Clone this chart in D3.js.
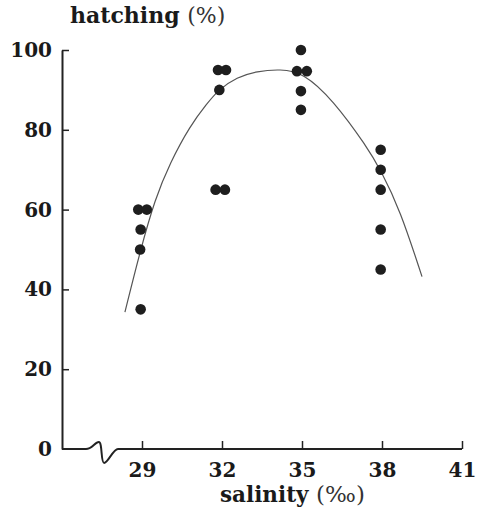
<!DOCTYPE html>
<html>
<head>
<meta charset="utf-8">
<script src="https://cdn.jsdelivr.net/npm/d3@7"></script>
<style>
    body { margin: 0; background: #fff; }
    text { font-family: "DejaVu Serif", serif; fill: #1a1a1a; }
</style>
</head>
<body>
<div id="chart"></div>
<script>
// measured points (salinity in per mille, hatching in %)
var pointSalinity = [28.86, 29.18, 28.95, 28.93, 28.95,
                     31.85, 32.15, 31.9, 31.76, 32.11,
                     34.96, 34.81, 35.18, 34.96, 34.96,
                     37.95, 37.95, 37.95, 37.95, 37.95];
var pointHatching = [60, 60, 55, 50, 35,
                     95, 95, 90, 65, 65,
                     100, 94.7, 94.7, 89.7, 85,
                     75, 70, 65, 55, 45];

// fitted curve
var curveSalinity = [28.36, 28.93, 29.49, 30.05, 30.8, 31.43, 31.86, 32.56, 33.31, 34.18, 35.04, 36.16, 37.43, 37.95, 38.68, 39.5];
var curveHatching = [34.3, 49.6, 62.7, 71.7, 81.0, 86.5, 90.0, 93.2, 94.7, 95.2, 94.4, 87.5, 75.8, 69.9, 59.9, 43.2];

var xTicks = [29, 32, 35, 38, 41];
var yTicks = [0, 20, 40, 60, 80, 100];

function init() {
    var width = 480;
    var height = 512;

    var x = d3.scaleLinear().domain([26, 41]).range([62, 462]);
    var y = d3.scaleLinear().domain([0, 100]).range([449, 50]);

    var svg = d3.select("#chart")
        .append("svg")
        .attr("width", width)
        .attr("height", height);

    // y axis, ticks point inwards
    var yAxis = svg.append("g")
        .attr("transform", "translate(" + x(26) + ",0)")
        .call(d3.axisLeft(y).tickValues(yTicks).tickSizeInner(-7).tickSizeOuter(0).tickPadding(10));
    yAxis.select(".domain").attr("stroke", "#222").attr("stroke-width", 2);
    yAxis.selectAll(".tick line").attr("stroke", "#222").attr("stroke-width", 1.5)
        .filter(function (d) { return d === 0; }).remove();
    yAxis.selectAll(".tick text")
        .style("font-size", "20px").style("font-weight", "bold").attr("fill", "#1a1a1a");

    // x axis ticks (the line itself is drawn below, with a break)
    var xAxis = svg.append("g")
        .attr("transform", "translate(0," + y(0) + ")")
        .call(d3.axisBottom(x).tickValues(xTicks).tickSizeInner(-8).tickSizeOuter(0).tickPadding(14));
    xAxis.select(".domain").remove();
    xAxis.selectAll(".tick line").attr("stroke", "#222").attr("stroke-width", 1.5);
    xAxis.selectAll(".tick text")
        .style("font-size", "20px").style("font-weight", "bold").attr("fill", "#1a1a1a");

    // axis break squiggle between the origin and 29
    var y0 = y(0);
    var p = d3.path();
    p.moveTo(x(26), y0);
    p.lineTo(x(26.9), y0);
    p.bezierCurveTo(x(27.12), y0, x(27.24), y0 - 7, x(27.38), y0 - 7);
    p.bezierCurveTo(x(27.52), y0 - 7, x(27.45), y0 + 14, x(27.58), y0 + 14);
    p.bezierCurveTo(x(27.72), y0 + 14, x(27.92), y0, x(28.1), y0);
    p.lineTo(x(41), y0);
    svg.append("path")
        .attr("d", p.toString())
        .attr("fill", "none")
        .attr("stroke", "#222")
        .attr("stroke-width", 2);

    // fitted curve
    var curveData = curveSalinity.map(function (s, i) { return [s, curveHatching[i]]; });
    svg.append("path")
        .datum(curveData)
        .attr("d", d3.line()
            .x(function (d) { return x(d[0]); })
            .y(function (d) { return y(d[1]); })
            .curve(d3.curveBasis))
        .attr("fill", "none")
        .attr("stroke", "#555")
        .attr("stroke-width", 1.2);

    // points
    var pts = pointSalinity.map(function (s, i) { return [s, pointHatching[i]]; });
    svg.selectAll("circle")
        .data(pts)
        .enter()
        .append("circle")
        .attr("cx", function (d) { return x(d[0]); })
        .attr("cy", function (d) { return y(d[1]); })
        .attr("r", 5.3)
        .attr("fill", "#1e1e1e");

    // axis titles
    var yTitle = svg.append("text")
        .attr("x", 70)
        .attr("y", 23)
        .style("font-size", "22px");
    yTitle.append("tspan").style("font-weight", "bold").text("hatching ");
    yTitle.append("tspan").style("font-weight", "normal").attr("fill", "#333").text("(%)");

    var xTitle = svg.append("text")
        .attr("x", 220)
        .attr("y", 502)
        .style("font-size", "21.5px");
    xTitle.append("tspan").style("font-weight", "bold").text("salinity ");
    xTitle.append("tspan").style("font-weight", "normal").attr("fill", "#333").style("font-size", "23px").text("(‰)");
}

window.onload = init;
</script>
</body>
</html>
